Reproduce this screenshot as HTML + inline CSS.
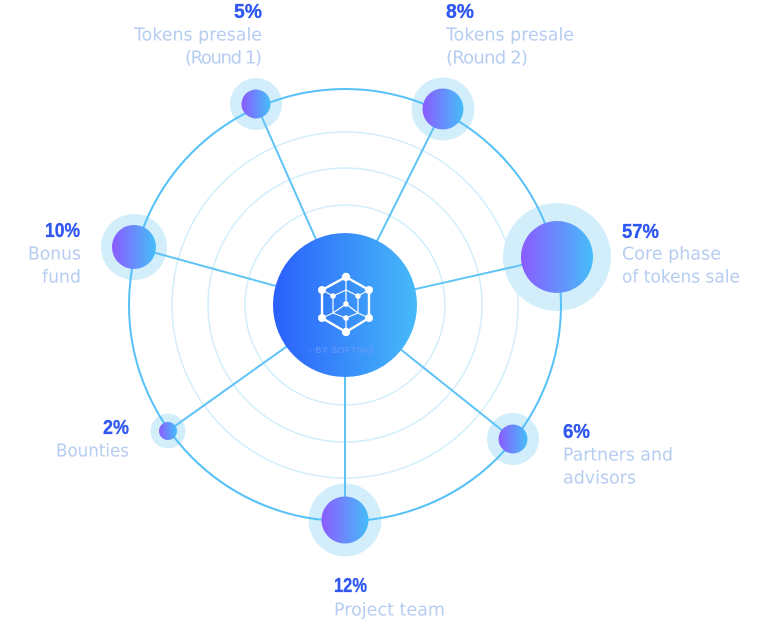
<!DOCTYPE html>
<html>
<head>
<meta charset="utf-8">
<style>
html,body{margin:0;padding:0;background:#fff;width:768px;height:626px;overflow:hidden}
svg{display:block}
.p{font-family:"Liberation Sans",sans-serif;font-weight:700;font-size:20px;fill:#3058f0;stroke:#3058f0;stroke-width:.35}
.l{font-family:"DejaVu Sans","Liberation Sans",sans-serif;font-size:18px;fill:#b6cdf1}
</style>
</head>
<body>
<svg width="768" height="626" viewBox="0 0 768 626" xmlns="http://www.w3.org/2000/svg">
<defs>
<linearGradient id="n"><stop offset="0" stop-color="#8b5bff"/><stop offset="1" stop-color="#45bdf9"/></linearGradient>
<linearGradient id="c"><stop offset="0" stop-color="#2a5ffc"/><stop offset="1" stop-color="#46baf8"/></linearGradient>
</defs>

<g fill="#d2eefb">
<circle cx="557" cy="257" r="54"/>
<circle cx="443" cy="109" r="31.5"/>
<circle cx="256" cy="104" r="26"/>
<circle cx="134" cy="247" r="33"/>
<circle cx="168" cy="431" r="17.5"/>
<circle cx="345" cy="520" r="36.5"/>
<circle cx="513" cy="439" r="26"/>
</g>

<g fill="none" stroke="#d3eefb" stroke-width="1.5">
<circle cx="345" cy="305" r="100"/>
<circle cx="345" cy="305" r="137"/>
<circle cx="345" cy="305" r="173"/>
</g>
<circle cx="345" cy="305" r="216" fill="none" stroke="#55c1f8" stroke-width="2"/>

<g stroke="#5fc3f7" stroke-width="2">
<line x1="345" y1="305" x2="557" y2="257"/>
<line x1="345" y1="305" x2="443" y2="109"/>
<line x1="345" y1="305" x2="256" y2="104"/>
<line x1="345" y1="305" x2="134" y2="247"/>
<line x1="345" y1="305" x2="168" y2="431"/>
<line x1="345" y1="305" x2="345" y2="520"/>
<line x1="345" y1="305" x2="513" y2="439"/>
</g>

<g fill="url(#n)">
<circle cx="557" cy="257" r="36"/>
<circle cx="443" cy="109" r="20.5"/>
<circle cx="256" cy="104" r="14.5"/>
<circle cx="134" cy="247" r="22"/>
<circle cx="168" cy="431" r="9"/>
<circle cx="345" cy="520" r="23.5"/>
<circle cx="513" cy="439" r="14.5"/>
</g>

<circle cx="345" cy="305" r="72" fill="url(#c)"/>

<g stroke="#fff" fill="none">
<polygon points="346,277 369,290 369,318 346,332 322,318 322,290" stroke-width="2.4"/>
<g stroke-width="1.2">
<line x1="346" y1="277" x2="346" y2="290"/>
<polyline points="333,296 346,290 358,296"/>
<line x1="346" y1="290" x2="346" y2="304"/>
<line x1="322" y1="290" x2="333" y2="296"/>
<line x1="369" y1="290" x2="358" y2="296"/>
<line x1="333" y1="296" x2="333" y2="313"/>
<line x1="358" y1="296" x2="358" y2="313"/>
<polyline points="333,313 346,304 358,313"/>
<polyline points="333,313 346,318 358,313"/>
<line x1="322" y1="318" x2="333" y2="313"/>
<line x1="369" y1="318" x2="358" y2="313"/>
<line x1="346" y1="318" x2="346" y2="332"/>
</g>
</g>
<g fill="#fff">
<circle cx="346" cy="277" r="4.2"/>
<circle cx="369" cy="290" r="4"/>
<circle cx="369" cy="318" r="4"/>
<circle cx="346" cy="332" r="4.2"/>
<circle cx="322" cy="318" r="4"/>
<circle cx="322" cy="290" r="4"/>
<circle cx="333" cy="296" r="2.8"/>
<circle cx="358" cy="296" r="2.8"/>
<circle cx="346" cy="304" r="2.8"/>
<circle cx="346" cy="318" r="2.8"/>
</g>
<text x="309" y="353" textLength="71" lengthAdjust="spacing" font-family="Liberation Sans, sans-serif" font-size="8.5" fill="#6f9bf7">- BY SOFTNIO -</text>

<text class="p" x="234" y="18" textLength="28" lengthAdjust="spacingAndGlyphs">5%</text>
<text class="l" x="134" y="40.5" textLength="128" lengthAdjust="spacingAndGlyphs">Tokens presale</text>
<text class="l" x="185" y="63.5" textLength="77" lengthAdjust="spacing">(Round 1)</text>

<text class="p" x="446" y="18" textLength="28" lengthAdjust="spacingAndGlyphs">8%</text>
<text class="l" x="446" y="40.5" textLength="128" lengthAdjust="spacingAndGlyphs">Tokens presale</text>
<text class="l" x="446" y="63.5" textLength="82" lengthAdjust="spacing">(Round 2)</text>

<text class="p" x="622" y="238" textLength="37" lengthAdjust="spacingAndGlyphs">57%</text>
<text class="l" x="622" y="259.5" textLength="99" lengthAdjust="spacingAndGlyphs">Core phase</text>
<text class="l" x="622" y="282.5" textLength="118" lengthAdjust="spacingAndGlyphs">of tokens sale</text>

<text class="p" x="45" y="237" textLength="35" lengthAdjust="spacingAndGlyphs">10%</text>
<text class="l" x="28" y="259.5" textLength="53" lengthAdjust="spacingAndGlyphs">Bonus</text>
<text class="l" x="42" y="282.5" textLength="39" lengthAdjust="spacingAndGlyphs">fund</text>

<text class="p" x="103" y="434" textLength="26" lengthAdjust="spacingAndGlyphs">2%</text>
<text class="l" x="56" y="456.5" textLength="73" lengthAdjust="spacingAndGlyphs">Bounties</text>

<text class="p" x="334" y="592" textLength="33" lengthAdjust="spacingAndGlyphs">12%</text>
<text class="l" x="334" y="615.5" textLength="111" lengthAdjust="spacingAndGlyphs">Project team</text>

<text class="p" x="563" y="438" textLength="27" lengthAdjust="spacingAndGlyphs">6%</text>
<text class="l" x="563" y="460.5" textLength="110" lengthAdjust="spacingAndGlyphs">Partners and</text>
<text class="l" x="563" y="483.5" textLength="73" lengthAdjust="spacingAndGlyphs">advisors</text>
</svg>
</body>
</html>
